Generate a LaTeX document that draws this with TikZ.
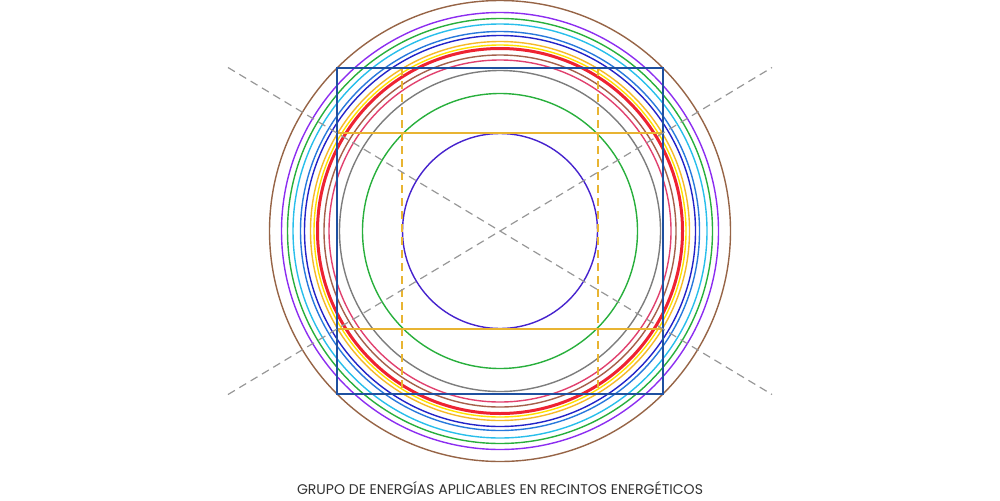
\documentclass[tikz,border=0pt]{standalone}
\usepackage{xcolor}
\usepackage{fontspec}
\setmainfont{Poppins}
\usepackage{tikz}
\usetikzlibrary{positioning,calc}

\definecolor{cbrown}{RGB}{150,100,70}
\definecolor{cpurple}{RGB}{140,45,240}
\definecolor{cgreen}{RGB}{40,175,60}
\definecolor{ccyan}{RGB}{40,190,235}
\definecolor{cblue}{RGB}{40,120,220}
\definecolor{cdarkblue}{RGB}{35,35,200}
\definecolor{corange}{RGB}{245,185,40}
\definecolor{cyellow}{RGB}{255,225,0}
\definecolor{cred}{RGB}{238,35,50}
\definecolor{cbrown2}{RGB}{165,95,75}
\definecolor{cpink}{RGB}{225,65,110}
\definecolor{cgray}{RGB}{125,125,125}
\definecolor{csquare}{RGB}{30,80,160}
\definecolor{cindigo}{RGB}{70,35,205}
\definecolor{cgold}{RGB}{232,180,50}

\tikzstyle{ring}= [line width=0.7pt]
\tikzstyle{axis}= [cgray!80, line width=0.6pt, dash pattern=on 4pt off 2.6pt]
\tikzstyle{guide}= [cgold, line width=0.6pt]

\begin{document}
\begin{tikzpicture}[x=0.5pt, y=0.5pt]
				\useasboundingbox (0,0) rectangle (1000,500);
				\coordinate (c) at (500,269);
				
				% outer rings
				\draw[ring, cbrown] (c) circle (230.5);
				\draw[ring, cpurple] (c) circle (218.5);
				\draw[ring, cgreen] (c) circle (212.5);
				\draw[ring, ccyan] (c) circle (207);
				\draw[ring, cblue] (c) circle (199.5);
				\draw[ring, cdarkblue] (c) circle (195.5);
				\draw[ring, corange] (c) circle (189.5);
				\draw[ring, cyellow] (c) circle (186);
				\draw[ring, cred, line width=1.5pt] (c) circle (182.5);
				\draw[ring, cbrown2] (c) circle (176);
				\draw[ring, cpink] (c) circle (171);
				\draw[ring, cgray] (c) circle (160.5);
				
				% inner rings
				\draw[ring, cgreen] (c) circle (137.5);
				\draw[ring, cindigo] (c) circle (97.5);
				
				% square and guides
				\coordinate (sq1) at (337,432);
				\coordinate (sq2) at (663,106);
				\coordinate (h1l) at (337,367);
				\coordinate (h1r) at (663,367);
				\coordinate (h2l) at (337,171);
				\coordinate (h2r) at (663,171);
				\coordinate (v1t) at (402,432);
				\coordinate (v1b) at (402,106);
				\coordinate (v2t) at (598,432);
				\coordinate (v2b) at (598,106);
				
				\draw[guide] (h1l) -- (h1r);
				\draw[guide] (h2l) -- (h2r);
				\draw[guide, dash pattern=on 4pt off 2.5pt] (v1t) -- (v1b);
				\draw[guide, dash pattern=on 4pt off 2.5pt] (v2t) -- (v2b);
				\draw[csquare, line width=1.3pt] (sq1) rectangle (sq2);
				
				% diagonals
				\coordinate (d1) at (228,432.5);
				\coordinate (d2) at (772,105.5);
				\coordinate (d3) at (228,105.5);
				\coordinate (d4) at (772,432.5);
				\draw[axis] (d1) -- (d2);
				\draw[axis] (d3) -- (d4);
				
				\node[text=black!80, inner sep=0pt] (title) at (500,12) {\resizebox{203pt}{!}{GRUPO DE ENERGÍAS APLICABLES EN RECINTOS ENERGÉTICOS}};
			\end{tikzpicture}
\end{document}
